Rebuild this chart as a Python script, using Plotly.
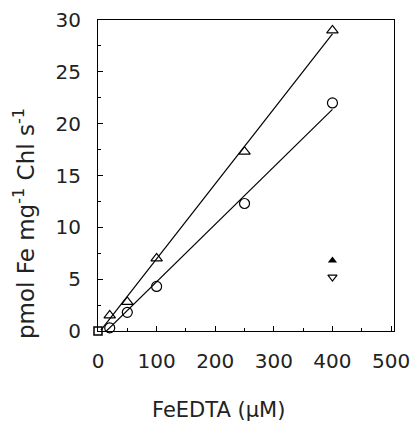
import numpy as np
import plotly.graph_objects as go

conc = [0, 20, 50, 100, 250, 400]
tri_vals = [0, 1.5, 2.8, 7.0, 17.3, 29.0]
circ_vals = [0, 0.3, 1.8, 4.3, 12.3, 22.0]
ctrl_x = [0]
ctrl_y = [0]
filled_x = [400]
filled_y = [6.8]
inv_x = [400]
inv_y = [5.2]

x_ticks = [0, 100, 200, 300, 400, 500]
y_ticks = [0, 5, 10, 15, 20, 25, 30]
x_title = "FeEDTA (μM)"
y_title = "pmol Fe mg<sup>-1</sup> Chl s<sup>-1</sup>"

fig = go.Figure()

def fit_line(xs, ys, x0, x1):
    m, b = np.polyfit(xs, ys, 1)
    return [x0, x1], [m * x0 + b, m * x1 + b]

lx, ly = fit_line(conc, tri_vals, 5, max(conc))
fig.add_trace(go.Scatter(x=lx, y=ly, mode="lines", line=dict(color="black", width=1.2), showlegend=False))
lx, ly = fit_line(conc, circ_vals, 10, max(conc))
fig.add_trace(go.Scatter(x=lx, y=ly, mode="lines", line=dict(color="black", width=1.2), showlegend=False))

fig.add_trace(go.Scatter(x=conc[1:], y=tri_vals[1:], mode="markers",
                         marker=dict(symbol="triangle-up-open", size=10, color="black", line=dict(width=1.2)),
                         showlegend=False, cliponaxis=False))
fig.add_trace(go.Scatter(x=conc[1:], y=circ_vals[1:], mode="markers",
                         marker=dict(symbol="circle-open", size=10, color="black", line=dict(width=1.2)),
                         showlegend=False, cliponaxis=False))
fig.add_trace(go.Scatter(x=ctrl_x, y=ctrl_y, mode="markers",
                         marker=dict(symbol="square-open", size=8, color="black", line=dict(width=1.5)),
                         showlegend=False, cliponaxis=False))
fig.add_trace(go.Scatter(x=filled_x, y=filled_y, mode="markers",
                         marker=dict(symbol="triangle-up", size=8, color="black"),
                         showlegend=False, cliponaxis=False))
fig.add_trace(go.Scatter(x=inv_x, y=inv_y, mode="markers",
                         marker=dict(symbol="triangle-down-open", size=8, color="black", line=dict(width=1.2)),
                         showlegend=False, cliponaxis=False))

fam = "DejaVu Sans, Arial, sans-serif"

fig.update_layout(
    width=416, height=422,
    margin=dict(l=98, r=22, t=20, b=91),
    plot_bgcolor="white", paper_bgcolor="white",
    font=dict(family=fam, size=17, color="black"),
)
fig.update_xaxes(
    range=[0, 505], tickvals=x_ticks, ticktext=[str(v) for v in x_ticks],
    ticks="inside", ticklen=5, tickwidth=1, tickcolor="black",
    minor=dict(ticks="inside", ticklen=3, dtick=50, tickcolor="black"),
    showline=True, linecolor="black", linewidth=1.2, mirror=True,
    showgrid=False, zeroline=False, automargin=False,
    ticklabelstandoff=12, ticklabeloverflow="allow",
    tickfont=dict(family=fam, size=20, color="#222"),
)
fig.update_yaxes(
    range=[0, 30], tickvals=y_ticks, ticktext=[str(v) for v in y_ticks],
    ticks="inside", ticklen=5, tickwidth=1, tickcolor="black",
    minor=dict(ticks="inside", ticklen=3, dtick=2.5, tickcolor="black"),
    showline=True, linecolor="black", linewidth=1.2, mirror=True,
    showgrid=False, zeroline=False, automargin=False,
    ticklabelstandoff=12, ticklabeloverflow="allow",
    tickfont=dict(family=fam, size=20, color="#222"),
)
# titles placed as in the reference (offset from the plot centre)
fig.add_annotation(text=x_title, xref="paper", yref="paper", x=(218 - 98) / 296, y=(331 - 410) / 311,
                   xanchor="center", yanchor="middle", showarrow=False,
                   font=dict(family=fam, size=21, color="#222"))
fig.add_annotation(text=y_title, xref="paper", yref="paper", x=(24 - 98) / 296, y=(331 - 224) / 311,
                   xanchor="center", yanchor="middle", showarrow=False, textangle=-90,
                   font=dict(family=fam, size=23, color="#222"))

fig.write_html("out.html", config={"displayModeBar": False},
               post_script="document.body.style.margin='0';")
